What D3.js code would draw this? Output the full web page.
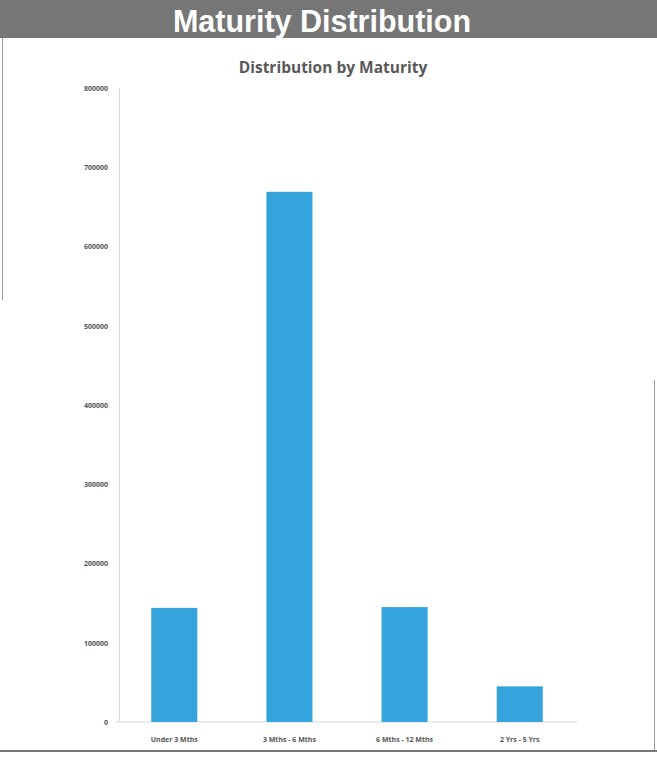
<!DOCTYPE html>
<html><head><meta charset="utf-8">
<script src="https://cdnjs.cloudflare.com/ajax/libs/d3/7.8.5/d3.min.js"></script>
<style>html,body{margin:0;padding:0;background:#fff;overflow:hidden}</style>
</head><body>
<svg id="c" width="657" height="761"></svg>
<script>
const categories = ["Under 3 Mths", "3 Mths - 6 Mths", "6 Mths - 12 Mths", "2 Yrs - 5 Yrs"];
const values = [144000, 669000, 145000, 45000];
const yTicks = [0, 100000, 200000, 300000, 400000, 500000, 600000, 700000, 800000];

const svg = d3.select("#c");
const W = 657, H = 761;
const m = {left: 119, right: 80, top: 88, bottom: 39};

// header band
svg.append("rect").attr("x", 0).attr("y", 0).attr("width", W).attr("height", 38).attr("fill", "#767676");
svg.append("text").attr("x", 322).attr("y", 32).attr("text-anchor", "middle")
  .attr("font-family", "Liberation Sans, Arial, sans-serif").attr("font-weight", "bold")
  .attr("font-size", 30.5).attr("fill", "#fff").text("Maturity Distribution");

// frame lines
svg.append("line").attr("x1", 2.5).attr("x2", 2.5).attr("y1", 38).attr("y2", 300).attr("stroke", "#9a9a9a").attr("stroke-width", 1);
svg.append("line").attr("x1", 654.5).attr("x2", 654.5).attr("y1", 380).attr("y2", 752).attr("stroke", "#9a9a9a").attr("stroke-width", 1);
svg.append("line").attr("x1", 0).attr("x2", W).attr("y1", 751).attr("y2", 751).attr("stroke", "#777").attr("stroke-width", 2);

// subtitle
svg.append("text").attr("x", 333).attr("y", 73).attr("text-anchor", "middle")
  .attr("font-family", "Open Sans, Liberation Sans, sans-serif").attr("font-weight", "bold")
  .attr("font-size", 15.5).attr("fill", "#595959").text("Distribution by Maturity");

const x = d3.scaleBand().domain(categories).range([m.left, W - m.right - 2]).paddingInner(0.6).paddingOuter(0.28);
const y = d3.scaleLinear().domain([0, 800000]).range([H - m.bottom, m.top]);

// axes
const yAxis = d3.axisLeft(y).tickValues(yTicks).tickSize(0).tickPadding(11).tickFormat(d3.format("d"));
const gy = svg.append("g").attr("transform", `translate(${m.left},0)`).call(yAxis);
gy.select(".domain").attr("stroke", "#d9d9d9");
gy.selectAll("text").attr("font-family", "Open Sans, sans-serif").attr("font-weight", "bold")
  .attr("font-size", 7).attr("fill", "#555");

const xAxis = d3.axisBottom(x).tickSize(0).tickPadding(15);
const gx = svg.append("g").attr("transform", `translate(0,${y(0)})`).call(xAxis);
gx.select(".domain").attr("stroke", "#d9d9d9").attr("d", `M${m.left - 4},0H${W - m.right}`);
gx.selectAll("text").attr("font-family", "Open Sans, sans-serif").attr("font-weight", "bold")
  .attr("font-size", 7).attr("fill", "#555");

// bars
svg.append("g").selectAll("rect").data(values).join("rect")
  .attr("x", (d, i) => x(categories[i]))
  .attr("width", x.bandwidth())
  .attr("y", d => y(d))
  .attr("height", d => y(0) - y(d))
  .attr("fill", "#35a3dc");
</script>
</body></html>
